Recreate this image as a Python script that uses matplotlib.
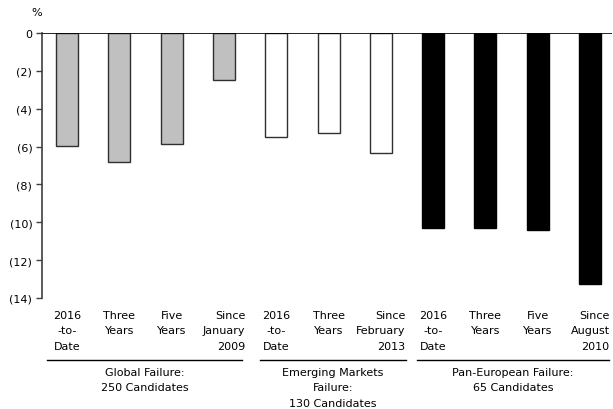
import matplotlib
matplotlib.use("Agg")
import matplotlib.pyplot as plt
from matplotlib.transforms import blended_transform_factory

# Failure-period returns (%) by candidate universe
categories = ["2016\n-to-\nDate", "Three\nYears", "Five\nYears", "Since\nJanuary\n2009",
              "2016\n-to-\nDate", "Three\nYears", "Since\nFebruary\n2013",
              "2016\n-to-\nDate", "Three\nYears", "Five\nYears", "Since\nAugust\n2010"]
global_vals = [-5.95, -6.8, -5.85, -2.5]
em_vals = [-5.5, -5.3, -6.35]
pan_eu_vals = [-10.3, -10.3, -10.4, -13.25]
group_labels = ["Global Failure:\n250 Candidates",
                "Emerging Markets\nFailure:\n130 Candidates",
                "Pan-European Failure:\n65 Candidates"]
y_ticks = [0, -2, -4, -6, -8, -10, -12, -14]
y_tick_labels = ["0", "(2)", "(4)", "(6)", "(8)", "(10)", "(12)", "(14)"]

plt.rcParams['font.family'] = ['DejaVu Sans']
W, H = 613, 410
fig = plt.figure(figsize=(W / 100, H / 100), dpi=100)
ax = fig.add_axes([42 / W, 1 - 299 / H, (612 - 42) / W, (299 - 34) / H])

groups = [(global_vals, "#c0c0c0", "#303030"),
          (em_vals, "white", "#303030"),
          (pan_eu_vals, "black", "black")]
x0 = 0
for vals, fc, ec in groups:
    xs = list(range(x0, x0 + len(vals)))
    ax.bar(xs, vals, width=0.42, color=fc, edgecolor=ec, linewidth=1.0, zorder=2)
    x0 += len(vals)

ax.set_xlim(-0.48, 10.42)
ax.set_ylim(-14, 0)
ax.axhline(0, color="black", linewidth=1.2, zorder=3)

ax.set_yticks(y_ticks)
ax.set_yticklabels(y_tick_labels, fontsize=8)
ax.tick_params(axis='y', direction='out', length=4, width=1, color="#404040", pad=3)
ax.set_xticks([])
for s in ["top", "right", "bottom"]:
    ax.spines[s].set_visible(False)
ax.spines["left"].set_color("#404040")
ax.spines["left"].set_linewidth(1.2)

fig.text(37 / W, 1 - 13 / H, "%", fontsize=8, ha="center", va="center")

# Category labels below axis (x in data units, y in figure pixels)
tr = blended_transform_factory(ax.transData, fig.transFigure)
for i, lab in enumerate(categories):
    ma = "right" if lab.startswith("Since") else "center"
    ax.text(i, 1 - 311 / H, lab, transform=tr, ha="center", va="top",
            fontsize=8, multialignment=ma, linespacing=1.66)

# Group underlines and labels
line_px = [(47, 242), (260, 406), (417, 609)]
for (a, b), lab in zip(line_px, group_labels):
    y = 1 - 361 / H
    fig.add_artist(plt.Line2D([a / W, b / W], [y, y], color="black", linewidth=1.0))
    fig.text((a + b) / 2 / W, 1 - 368 / H, lab, ha="center", va="top",
             fontsize=8, linespacing=1.66)

fig.savefig("out.png", dpi=100)
